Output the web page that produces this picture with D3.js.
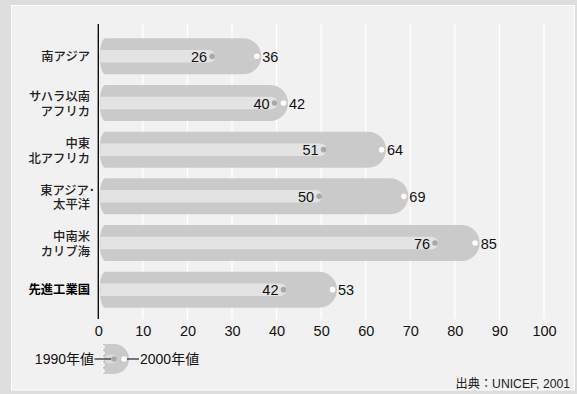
<!DOCTYPE html>
<html>
<head>
<meta charset="utf-8">
<script src="https://cdn.jsdelivr.net/npm/d3@7"></script>
<style>
  html, body { margin: 0; padding: 0; background: #dcdddc; }
  svg { display: block; }
</style>
</head>
<body>
<svg id="chart" width="577" height="394"></svg>
<script>
// Regions (multi-line labels split on "\n")
const categories = [
  "南アジア",
  "サハラ以南\nアフリカ",
  "中東\n北アフリカ",
  "東アジア･\n太平洋",
  "中南米\nカリブ海",
  "先進工業国"
];
const values1990 = [26, 40, 51, 50, 76, 42];
const values2000 = [36, 42, 64, 69, 85, 53];
const tickValues = [0, 10, 20, 30, 40, 50, 60, 70, 80, 90, 100];
const legendLabels = ["1990年値", "2000年値"];
const sourceText = "出典：UNICEF, 2001";

const latin = "'Liberation Sans', Arial, Helvetica, sans-serif";
const cjk = "'Liberation Sans', 'Noto Sans CJK JP', sans-serif";

const svg = d3.select("#chart");

// panel
svg.append("rect")
  .attr("x", 11.5).attr("y", 5.5).attr("width", 563).attr("height", 384.5)
  .attr("fill", "#f1f1f1").attr("stroke", "#ffffff").attr("stroke-width", 1);

const x = d3.scaleLinear().domain([0, 100]).range([98.3, 544]);
const y = d3.scaleBand().domain(categories).range([33, 313]).paddingInner(0.2286).paddingOuter(0.1143);

const plotTop = 24, plotBottom = 319;

// vertical gridlines
svg.append("g").selectAll("line")
  .data(tickValues.filter(d => d > 0))
  .join("line")
  .attr("x1", d => x(d)).attr("x2", d => x(d))
  .attr("y1", plotTop).attr("y2", plotBottom)
  .attr("stroke", "#ffffff").attr("stroke-width", 1.3);

// x axis tick labels
const axis = d3.axisBottom(x).tickValues(tickValues).tickSize(0).tickPadding(0).tickFormat(d3.format("d"));
const axisG = svg.append("g").attr("transform", `translate(0, ${plotBottom})`).call(axis);
axisG.select(".domain").remove();
axisG.selectAll("text")
  .attr("y", 17).attr("dy", 0)
  .attr("font-family", latin).attr("font-size", 14.5).attr("fill", "#111");

const bandH = y.bandwidth();
const R = bandH / 2;
const x0 = x(0) + 1.3;

function capsulePath(cy, xr, h, leftRx) {
  const r = h / 2;
  const t = cy - r, b = cy + r;
  return `M${x0 + leftRx},${t} L${xr - r},${t} A${r},${r} 0 0 1 ${xr - r},${b} L${x0 + leftRx},${b} A${leftRx},${r} 0 0 1 ${x0 + leftRx},${t} Z`;
}

const rows = categories.map((c, i) => ({ c, v1: values1990[i], v2: values2000[i] }));

const g = svg.append("g");

// outer capsule: 2000 value
g.selectAll("path.outer")
  .data(rows).join("path").attr("class", "outer")
  .attr("d", d => capsulePath(y(d.c) + R, x(d.v2) + 2.5, bandH, 6))
  .attr("fill", "#c9cac9");

// inner stripe: 1990 value
const innerH = 12.5;
g.selectAll("path.inner")
  .data(rows).join("path").attr("class", "inner")
  .attr("d", d => {
    const cy = y(d.c) + R, r = innerH / 2, xr = x(d.v1) + 1;
    return `M${x0 + 0.5},${cy - r} L${xr - r},${cy - r} A${r},${r} 0 0 1 ${xr - r},${cy + r} L${x0 + 0.5},${cy + r} Z`;
  })
  .attr("fill", "#e3e3e3");

// value dots
g.selectAll("circle.d1")
  .data(rows).join("circle").attr("class", "d1")
  .attr("cx", d => x(d.v1) - 2).attr("cy", d => y(d.c) + R).attr("r", 2.8)
  .attr("fill", "#a9a9a9");
g.selectAll("circle.d2")
  .data(rows).join("circle").attr("class", "d2")
  .attr("cx", d => x(d.v2) - 2).attr("cy", d => y(d.c) + R).attr("r", 2.8)
  .attr("fill", "#ffffff");

// value labels
g.selectAll("text.l1")
  .data(rows).join("text").attr("class", "l1")
  .attr("x", d => x(d.v1) - 7).attr("y", d => y(d.c) + R + 5.5)
  .attr("text-anchor", "end")
  .attr("font-family", latin).attr("font-size", 14.5).attr("fill", "#111")
  .text(d => d.v1);
g.selectAll("text.l2")
  .data(rows).join("text").attr("class", "l2")
  .attr("x", d => x(d.v2) + 3.5).attr("y", d => y(d.c) + R + 5.5)
  .attr("font-family", latin).attr("font-size", 14.5).attr("fill", "#111")
  .text(d => d.v2);

// axis line
svg.append("line")
  .attr("x1", x(0)).attr("x2", x(0)).attr("y1", plotTop).attr("y2", plotBottom)
  .attr("stroke", "#111").attr("stroke-width", 1.4);

// category labels
const catG = svg.append("g");
rows.forEach((d, i) => {
  const lines = d.c.split("\n");
  const cy = y(d.c) + R;
  const offsets = lines.length === 1 ? [0] : [-6.3, 8.4];
  lines.forEach((line, j) => {
    catG.append("text")
      .attr("x", 90)
      .attr("dx", line.endsWith("･") ? 5 : 0)
      .attr("y", cy + offsets[j] + 4.6)
      .attr("text-anchor", "end")
      .attr("font-family", cjk)
      .attr("font-size", 12.3)
      .attr("font-weight", i === categories.length - 1 ? 700 : 500)
      .attr("fill", i === categories.length - 1 ? "#000" : "#222")
      .text(line);
  });
});

// legend
const ly = 359;
const leg = svg.append("g");
const iconL = 102, iconR = 129, iconH = 30, ir = iconH / 2;
// torn left edge, top to bottom
const zigPts = d3.range(11).map(k => [iconL + (k % 2 ? 2.5 : 0), ly - ir + (k * iconH) / 10]);
const iconPath = `M${iconL},${ly - ir} L${iconR - ir},${ly - ir} A${ir},${ir} 0 0 1 ${iconR - ir},${ly + ir} ` +
  zigPts.slice().reverse().map(p => `L${p[0]},${p[1]}`).join(" ") + " Z";
leg.append("path").attr("d", iconPath).attr("fill", "#c9cac9");
leg.append("path").attr("d", d3.line()(zigPts)).attr("fill", "none").attr("stroke", "#ffffff").attr("stroke-width", 1);
leg.append("rect").attr("x", iconL + 3).attr("y", ly - 4.5).attr("width", 12).attr("height", 9).attr("rx", 4.5)
  .attr("fill", "#dcdcdc");
leg.append("circle").attr("cx", 114).attr("cy", ly).attr("r", 2.8).attr("fill", "#a9a9a9");
leg.append("circle").attr("cx", 124).attr("cy", ly).attr("r", 2.8).attr("fill", "#ffffff");
leg.append("line").attr("x1", 94.5).attr("x2", 111).attr("y1", ly).attr("y2", ly).attr("stroke", "#111").attr("stroke-width", 1.1);
leg.append("line").attr("x1", 127).attr("x2", 139).attr("y1", ly).attr("y2", ly).attr("stroke", "#111").attr("stroke-width", 1.1);
leg.append("text").attr("x", 94).attr("y", ly + 5).attr("text-anchor", "end")
  .attr("font-family", cjk).attr("font-size", 14).attr("fill", "#111").text(legendLabels[0]);
leg.append("text").attr("x", 140).attr("y", ly + 5)
  .attr("font-family", cjk).attr("font-size", 14).attr("fill", "#111").text(legendLabels[1]);

// source note
svg.append("text").attr("x", 570).attr("y", 387.5).attr("text-anchor", "end")
  .attr("font-family", cjk).attr("font-size", 12.2).attr("fill", "#222").text(sourceText);
</script>
</body>
</html>
